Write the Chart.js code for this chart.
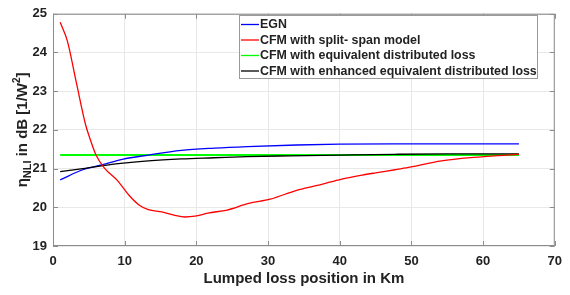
<!DOCTYPE html>
<html><head><meta charset="utf-8">
<script src="https://cdn.jsdelivr.net/npm/chart.js@4.4.1/dist/chart.umd.min.js"></script>
<style>html,body{margin:0;padding:0;background:#fff}#wrap{width:570px;height:295px}</style>
</head><body><div id="wrap"><canvas id="c" width="570" height="295"></canvas></div>
<script>
const xTicks = [0,10,20,30,40,50,60,70];
const yTicks = [19,20,21,22,23,24,25];
const labels = ["EGN","CFM with split- span model","CFM with equivalent distributed loss","CFM with enhanced equivalent distributed loss"];
const colors = ["#0000ff","#ff0000","#00ff00","#000000"];

const egnX = [1,4.17,6.9,9.67,13.3,17.9,22.5,27.1,34,40,47.7,55,65];
const egnY = [20.71,20.97,21.10,21.24,21.35,21.47,21.53,21.57,21.61,21.63,21.64,21.64,21.64];

const splitX = [1,2,3.26,4.54,5.09,6,7.15,9,10.6,12,13.3,15.2,17,18.4,19.8,21.6,24.3,27.3,30.3,34,36.7,39.9,43.1,45,47.7,49.6,54.2,58.7,63.3,65];
const splitY = [24.78,24.30,23.22,22.14,21.81,21.35,21.02,20.69,20.31,20.06,19.94,19.88,19.79,19.75,19.77,19.85,19.93,20.10,20.21,20.44,20.56,20.71,20.83,20.89,20.97,21.03,21.20,21.29,21.35,21.37];

const eqX = [1,65];
const eqY = [21.35,21.35];

const enhX = [1,4.17,8.76,13.3,17.9,22.5,27.1,33,40,47.7,55,65];
const enhY = [20.92,21.00,21.12,21.20,21.25,21.28,21.31,21.33,21.35,21.37,21.38,21.38];

function pts(xs, ys){ return xs.map((x,i)=>({x:x,y:ys[i]})); }
const series = [[egnX,egnY],[splitX,splitY],[eqX,eqY],[enhX,enhY]];

const FONT = "'Liberation Sans', Arial, sans-serif";

const frame = {
  id:'frame',
  afterDraw(chart){
    const {ctx, chartArea:a} = chart;
    ctx.save();
    ctx.strokeStyle = '#8c8c8c'; ctx.lineWidth = 1;
    ctx.strokeRect(a.left+0.5, a.top+0.5, a.right-a.left-1, a.bottom-a.top-1);
    const xs = chart.scales.x, ys = chart.scales.y;
    ctx.beginPath();
    xTicks.forEach(v=>{const p=Math.round(xs.getPixelForValue(v))+0.5; ctx.moveTo(p,a.top); ctx.lineTo(p,a.top+5); ctx.moveTo(p,a.bottom); ctx.lineTo(p,a.bottom-5);});
    yTicks.forEach(v=>{const p=Math.round(ys.getPixelForValue(v))+0.5; ctx.moveTo(a.right,p); ctx.lineTo(a.right-5,p); ctx.moveTo(a.left,p); ctx.lineTo(a.left+5,p);});
    ctx.stroke();
    // legend
    const lx=239.5, ly=15.5, lw=298, lh=63;
    ctx.fillStyle='#fff'; ctx.fillRect(lx,ly,lw,lh);
    ctx.strokeStyle='#9a9a9a'; ctx.strokeRect(lx,ly,lw,lh);
    ctx.font = "bold 12.4px " + FONT;
    ctx.textBaseline='middle';
    labels.forEach((t,i)=>{
      const y = 24.5 + i*15.5;
      ctx.strokeStyle = colors[i]; ctx.lineWidth=1.3;
      ctx.beginPath(); ctx.moveTo(241,y); ctx.lineTo(259,y); ctx.stroke();
      ctx.fillStyle='#222'; ctx.fillText(t, 260, y+0.5);
    });
    // y-axis title with sub/superscript
    ctx.save();
    const cy = (a.top+a.bottom)/2;
    ctx.translate(22, cy);
    ctx.rotate(-Math.PI/2);
    ctx.fillStyle='#222';
    ctx.textBaseline='alphabetic';
    const parts = [
      {t:'\u03b7', f:"bold 15px "+FONT, dy:0},
      {t:'NLI', f:"bold 11px "+FONT, dy:4},
      {t:' in dB [1/W', f:"bold 15px "+FONT, dy:0},
      {t:'2', f:"bold 10px "+FONT, dy:-7},
      {t:']', f:"bold 15px "+FONT, dy:0}
    ];
    let total=0;
    parts.forEach(p=>{ctx.font=p.f; p.w=ctx.measureText(p.t).width; total+=p.w;});
    let x=-total/2;
    parts.forEach(p=>{ctx.font=p.f; ctx.fillText(p.t,x,5+p.dy); x+=p.w;});
    ctx.restore();
    ctx.restore();
  }
};

new Chart(document.getElementById('c'), {
  type:'line',
  data:{ datasets: series.map((s,i)=>({
    label: labels[i], data: pts(s[0],s[1]), borderColor: colors[i], backgroundColor: colors[i],
    borderWidth: i===2?2:1.3, pointRadius:0, fill:false, cubicInterpolationMode:'monotone', order: [2,0,3,1][i]
  }))},
  options:{
    responsive:false, animation:false, events:[],
    layout:{padding:{left:0,right:8,top:5,bottom:0}},
    plugins:{legend:{display:false}, tooltip:{enabled:false}},
    scales:{
      x:{type:'linear', min:0, max:70,
        afterBuildTicks(s){ s.ticks = xTicks.map(v=>({value:v})); },
        afterFit(s){ s.height = 49; },
        grid:{color:'#e8e8e8', drawTicks:false},
        border:{display:false},
        ticks:{font:{family:FONT, size:13, weight:'bold'}, color:'#222', padding:8},
        title:{display:true, text:'Lumped loss position in Km', font:{family:FONT, size:15, weight:'bold'}, color:'#222', padding:{top:0,bottom:7}}
      },
      y:{type:'linear', min:19, max:25,
        afterBuildTicks(s){ s.ticks = yTicks.map(v=>({value:v})); },
        afterFit(s){ s.width = 53; },
        grid:{color:'#e8e8e8', drawTicks:false},
        border:{display:false},
        ticks:{font:{family:FONT, size:13, weight:'bold'}, color:'#222', padding:6}
      }
    }
  },
  plugins:[frame]
});
</script></body></html>
